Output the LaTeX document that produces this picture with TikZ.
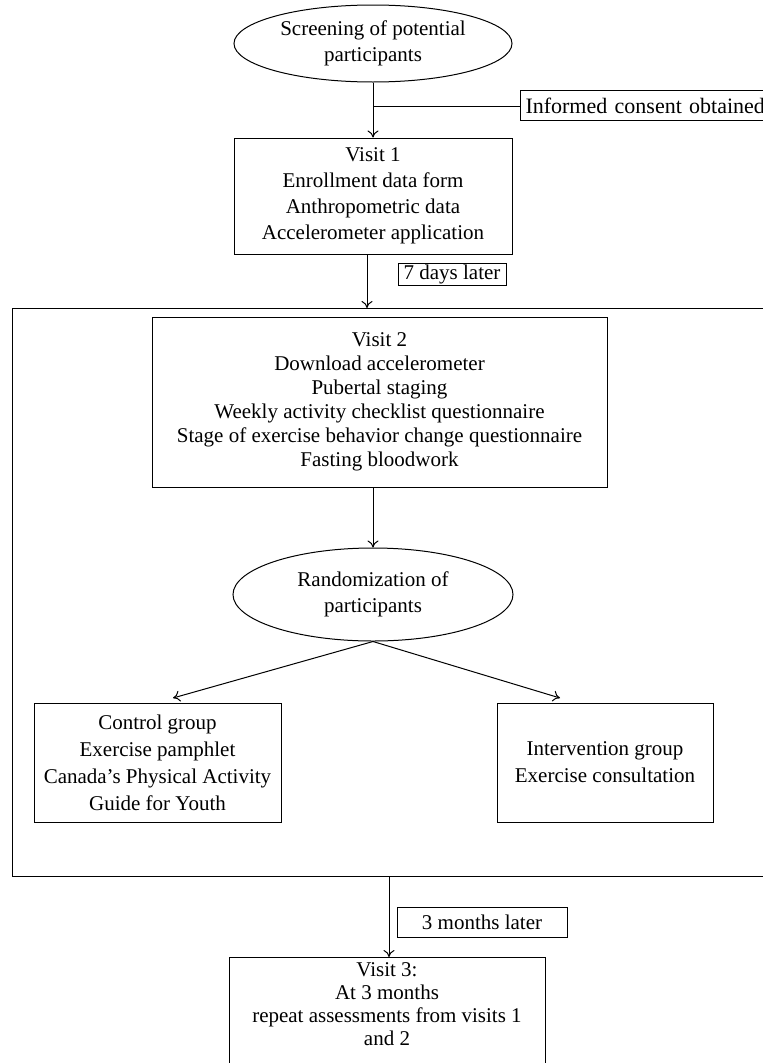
\documentclass[tikz,border=0pt]{standalone}
\usepackage{fontspec}
\setmainfont{Liberation Serif}
\usetikzlibrary{arrows.meta,shapes.geometric}
\begin{document}
\begin{tikzpicture}[x=1pt,y=-1pt,
  every node/.style={font=\fontsize{21}{24}\selectfont},
  box/.style={draw,line width=1pt,rectangle,align=center,inner sep=0pt},
  ell/.style={draw,line width=1pt,ellipse,inner sep=0pt,align=center},
  conn/.style={line width=1pt,-{To[length=7pt,width=11pt]}},
  plain/.style={line width=1pt}]
\clip (0,0) rectangle (763,1063);
\fill[white] (0,0) rectangle (763,1063);
% top
\node[ell, minimum width=278pt, minimum height=77pt, font=\fontsize{21}{26}\selectfont] (screen) at (373,43.5) {Screening of potential\\participants};
\node[box, anchor=west, minimum height=30pt, text width=250pt, inner xsep=5pt, align=left, font=\fontsize{22}{24}\selectfont] (consent) at (520,105.5) {Informed consent obtained};
\node[box, minimum width=278pt, minimum height=116pt, font=\fontsize{21}{26}\selectfont] (v1) at (373,196) {Visit 1\\Enrollment data form\\Anthropometric data\\Accelerometer application};
\node[box, minimum width=108pt, minimum height=22pt] (days) at (452,274) {7 days later};
% big frame
\coordinate (bbtr) at (780,308);
\coordinate (bbtl) at (12,308);
\coordinate (bbbl) at (12,876);
\coordinate (bbbr) at (780,876);
\coordinate (bigtop) at (367,308);
\coordinate (bigbot) at (389,876);
\draw[plain] (bbtr) -- (bbtl) -- (bbbl) -- (bbbr);
\node[box, minimum width=455pt, minimum height=170pt] (v2) at (379.5,402) {Visit 2\\Download accelerometer\\Pubertal staging\\Weekly activity checklist questionnaire\\Stage of exercise behavior change questionnaire\\Fasting bloodwork};
\node[ell, minimum width=280pt, minimum height=93pt, font=\fontsize{21}{26}\selectfont] (rand) at (373,594.5) {Randomization of\\participants};
\node[box, minimum width=247pt, minimum height=119pt, font=\fontsize{21}{27}\selectfont] (ctrl) at (157.5,762.5) {Control group\\Exercise pamphlet\\Canada’s Physical Activity\\Guide for Youth};
\node[box, minimum width=216pt, minimum height=119pt, font=\fontsize{21}{27}\selectfont] (int) at (605,762.5) {Intervention group\\Exercise consultation};
\coordinate (ctrltip) at (173,698);
\coordinate (inttip) at (560,698);
% bottom
\node[box, minimum width=170pt, minimum height=30pt] (months) at (482,922) {3 months later};
\node[box, anchor=north, minimum width=316pt, minimum height=130pt] (v3) at (387,957) {};
\node[anchor=north, align=center, inner sep=0pt, font=\fontsize{21}{23}\selectfont] (v3text) at ([yshift=-5pt]v3.north) {Visit 3:\\At 3 months\\repeat assessments from visits 1\\and 2};
% connectors
\draw[conn] (screen.south) -- (v1.north);
\coordinate (br) at (373,106);
\draw[plain] (br) -- (br -| consent.west);
\draw[conn] (v1.south -| bigtop) -- (bigtop);
\draw[conn] (v2.south -| rand.north) -- (rand.north);
\draw[conn] (rand.south) -- (ctrltip);
\draw[conn] (rand.south) -- (inttip);
\draw[conn] (bigbot) -- (bigbot |- v3.north);
\end{tikzpicture}
\end{document}
